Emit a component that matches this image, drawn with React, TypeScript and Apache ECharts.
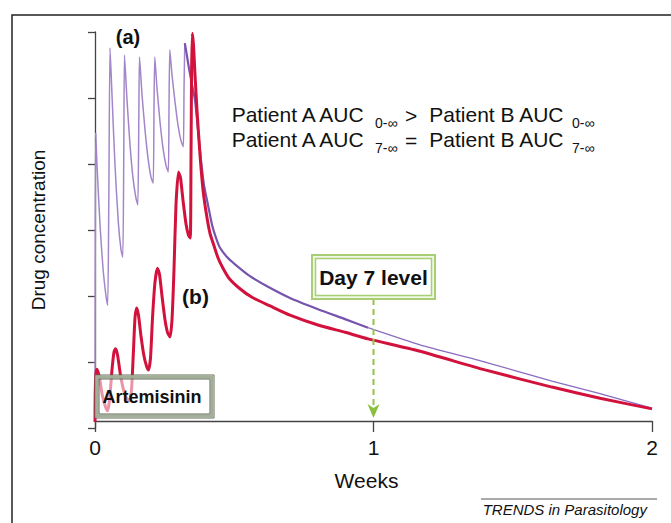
import React, { useEffect, useRef } from "react";
import * as echarts from "echarts";

// x in weeks, y in arbitrary concentration units (axis 0..6)
const xTickLabels = ["0", "1", "2"];
const day7Week = 1;

const patientA: [number, number][] = [
  [0, 0.09], [0.001, 2.7], [0.0025, 4.47], [0.0072, 3.98], [0.018, 3.08], [0.0287, 2.42], [0.0395, 2.0], [0.0456, 1.86],
  [0.0496, 3.45], [0.0539, 5.76], [0.061, 5.05], [0.0718, 3.98], [0.0837, 3.12], [0.0934, 2.7], [0.0998, 2.59],
  [0.1034, 4.21], [0.1059, 5.65], [0.1149, 4.97], [0.1257, 4.29], [0.1364, 3.79], [0.1472, 3.48], [0.1537, 3.38],
  [0.1573, 4.67], [0.1598, 5.62], [0.1688, 5.05], [0.1795, 4.52], [0.1903, 4.09], [0.2011, 3.8], [0.209, 3.71],
  [0.2118, 4.82], [0.2147, 5.62], [0.2226, 5.15], [0.2334, 4.64], [0.2442, 4.24], [0.2549, 3.98], [0.2632, 3.88],
  [0.2657, 4.82], [0.2686, 5.73], [0.2765, 5.35], [0.2873, 4.94], [0.298, 4.59], [0.3088, 4.35], [0.3171, 4.26],
  [0.3196, 5.12], [0.3224, 5.83], [0.3267, 5.73], [0.3375, 5.45], [0.3483, 5.2], [0.3591, 4.97], [0.3698, 4.52],
  [0.3806, 4.06], [0.3914, 3.68], [0.4057, 3.38], [0.4201, 3.08], [0.4345, 2.88], [0.4488, 2.73], [0.474, 2.59],
  [0.5027, 2.48], [0.5566, 2.3], [0.6212, 2.14], [0.7002, 1.97], [0.8007, 1.8], [0.8977, 1.65], [0.9803, 1.52],
  [1.167, 1.26], [1.4004, 1.0], [1.6409, 0.71], [1.8133, 0.52], [2.0, 0.3],
];

const patientB: [number, number][] = [
  [0, 0.09], [0.0007, 0.5], [0.0029, 0.8], [0.0072, 0.89], [0.0162, 0.76], [0.0269, 0.48], [0.0377, 0.32], [0.0449, 0.26],
  [0.0521, 0.42], [0.061, 0.88], [0.0682, 1.15], [0.0736, 1.2], [0.0808, 1.11], [0.0916, 0.8], [0.1041, 0.55], [0.1149, 0.44],
  [0.1239, 0.41], [0.1311, 0.58], [0.1382, 1.18], [0.1436, 1.67], [0.1497, 1.82], [0.1562, 1.71], [0.1652, 1.39],
  [0.1759, 1.09], [0.1849, 0.94], [0.1921, 0.88], [0.1993, 1.06], [0.2065, 1.67], [0.2154, 2.21], [0.2244, 2.42],
  [0.2316, 2.33], [0.2406, 2.0], [0.2513, 1.64], [0.2603, 1.45], [0.2693, 1.38], [0.2765, 1.64], [0.2836, 2.39],
  [0.2908, 3.38], [0.2998, 3.88], [0.307, 3.79], [0.316, 3.45], [0.3268, 3.09], [0.3357, 2.92], [0.3422, 2.88],
  [0.3447, 4.06], [0.3469, 5.42], [0.3494, 5.98], [0.3537, 5.8], [0.3591, 5.35], [0.3662, 4.82], [0.377, 4.14],
  [0.3878, 3.61], [0.4004, 3.23], [0.4129, 2.95], [0.4273, 2.76], [0.4416, 2.58], [0.4596, 2.42], [0.4811, 2.27],
  [0.5206, 2.11], [0.5637, 1.98], [0.6284, 1.85], [0.7002, 1.71], [0.8007, 1.56], [0.8977, 1.45], [0.9803, 1.35],
  [1.1598, 1.17], [1.4004, 0.88], [1.6409, 0.62], [1.8133, 0.45], [2.0, 0.29],
];

const FONT = "'Liberation Sans', Arial, Helvetica, sans-serif";

export default function App() {
  const ref = useRef<HTMLDivElement>(null);

  useEffect(() => {
    document.body.style.margin = "0";
    const chart = echarts.init(ref.current!, null, { renderer: "svg" });

    const aEarly = patientA.filter((p) => p[0] <= 0.3224);
    const aMid = patientA.filter((p) => p[0] >= 0.3224 && p[0] <= 0.9803);
    const aLate = patientA.filter((p) => p[0] >= 0.9803);

    const lineBase = {
      type: "line" as const,
      showSymbol: false,
      smooth: 0.2,
      silent: true,
    };

    chart.setOption({
      animation: false,
      grid: { left: 95, right: 19, top: 32, bottom: 95 },
      xAxis: {
        type: "value",
        min: 0,
        max: 2,
        interval: 1,
        offset: -7,
        axisLine: { show: true, lineStyle: { color: "#444", width: 1.3 } },
        axisTick: { show: true, length: 11, lineStyle: { color: "#444", width: 1.3 } },
        axisLabel: {
          fontSize: 21,
          color: "#111",
          margin: 16,
          fontFamily: FONT,
          formatter: (v: number) => xTickLabels[Math.round(v)] ?? "",
        },
        splitLine: { show: false },
        name: "Weeks",
        nameLocation: "middle",
        nameGap: 49,
        nameTextStyle: { fontSize: 21, color: "#111", fontFamily: FONT, padding: [0, 14, 0, 0] },
      },
      yAxis: {
        type: "value",
        min: 0,
        max: 6,
        interval: 1,
        offset: 21,
        axisLine: { show: true, lineStyle: { color: "#444", width: 1.3 } },
        axisTick: { show: true, length: 7, lineStyle: { color: "#444", width: 1.3 } },
        axisLabel: { show: false },
        splitLine: { show: false },
        name: "Drug concentration",
        nameLocation: "middle",
        nameGap: 26,
        nameRotate: 90,
        nameTextStyle: { fontSize: 19, color: "#111", fontFamily: FONT },
      },
      series: [
        { ...lineBase, name: "Patient A", data: aEarly, z: 2, lineStyle: { color: "#a286c9", width: 1.5 } },
        { ...lineBase, name: "Patient A decay", data: aMid, z: 2, lineStyle: { color: "#7654ad", width: 2.2 } },
        { ...lineBase, name: "Patient A tail", data: aLate, z: 2, lineStyle: { color: "#8a6cc0", width: 1.3 } },
        { ...lineBase, name: "Patient B", data: patientB, z: 3, lineStyle: { color: "#d2123c", width: 3 } },
      ],
    });

    const [ax] = chart.convertToPixel({ gridIndex: 0 }, [day7Week, 0]) as number[];
    const bw = 123;
    const bx = ax - bw / 2;

    const txt = (text: string, x: number, y: number, size: number, opts: any = {}) => ({
      type: "text",
      z: 110,
      style: {
        text,
        x,
        y,
        fill: "#111",
        fontSize: size,
        fontWeight: opts.weight || "normal",
        fontStyle: opts.italic ? "italic" : "normal",
        fontFamily: FONT,
        textAlign: opts.align || "left",
        textVerticalAlign: "middle",
      },
    });

    chart.setOption({
      graphic: [
        {
          type: "polyline",
          z: 100,
          shape: { points: [[12, 523], [12, 15], [671, 15]] },
          style: { stroke: "#222", lineWidth: 1.5, fill: "none" },
        },
        // Artemisinin box
        { type: "rect", z: 100, shape: { x: 95, y: 375, width: 119, height: 43 }, style: { fill: "rgba(255,255,255,0.55)", stroke: "#5e6b57", lineWidth: 1 } },
        { type: "rect", z: 101, shape: { x: 97, y: 377, width: 115, height: 39 }, style: { fill: "none", stroke: "#a3ae98", lineWidth: 3 } },
        { type: "rect", z: 102, shape: { x: 99, y: 379, width: 111, height: 35 }, style: { fill: "none", stroke: "#5e6b57", lineWidth: 1 } },
        txt("Artemisinin", 152, 397, 18, { weight: "bold", align: "center" }),
        // Day 7 box and arrow
        { type: "line", z: 100, shape: { x1: ax, y1: 299, x2: ax, y2: 410 }, style: { stroke: "#93c447", lineWidth: 2, lineDash: [6, 4] } },
        { type: "polygon", z: 101, shape: { points: [[ax - 6, 404], [ax, 418], [ax + 6, 404], [ax, 408]] }, style: { fill: "#8cbf3f" } },
        { type: "rect", z: 100, shape: { x: bx, y: 255, width: bw, height: 44 }, style: { fill: "#f1f8e8", stroke: "#a9cf76", lineWidth: 2 } },
        { type: "rect", z: 101, shape: { x: bx + 3.5, y: 258.5, width: bw - 7, height: 37 }, style: { fill: "#ffffff", stroke: "#a9cf76", lineWidth: 1.5 } },
        txt("Day 7 level", ax, 277.5, 21, { weight: "bold", align: "center" }),
        // labels
        txt("(a)", 128, 36.5, 20, { weight: "bold", align: "center" }),
        txt("(b)", 195.5, 296.5, 21, { weight: "bold", align: "center" }),
        // AUC annotation
        txt("Patient A AUC", 231.7, 114, 21),
        txt("0-\u221e", 375, 123, 14),
        txt(">", 405, 115, 21),
        txt("Patient B AUC", 429.3, 114, 21),
        txt("0-\u221e", 572, 123, 14),
        txt("Patient A AUC", 231.7, 139, 21),
        txt("7-\u221e", 375, 148, 14),
        txt("=", 405, 140, 21),
        txt("Patient B AUC", 429.3, 139, 21),
        txt("7-\u221e", 572, 148, 14),
        // source
        { type: "line", z: 100, shape: { x1: 481, y1: 499, x2: 657, y2: 499 }, style: { stroke: "#555", lineWidth: 1 } },
        txt("TRENDS in Parasitology", 482.7, 509.5, 15, { italic: true }),
      ],
    });

    return () => chart.dispose();
  }, []);

  return <div ref={ref} style={{ width: 671, height: 523 }} />;
}
